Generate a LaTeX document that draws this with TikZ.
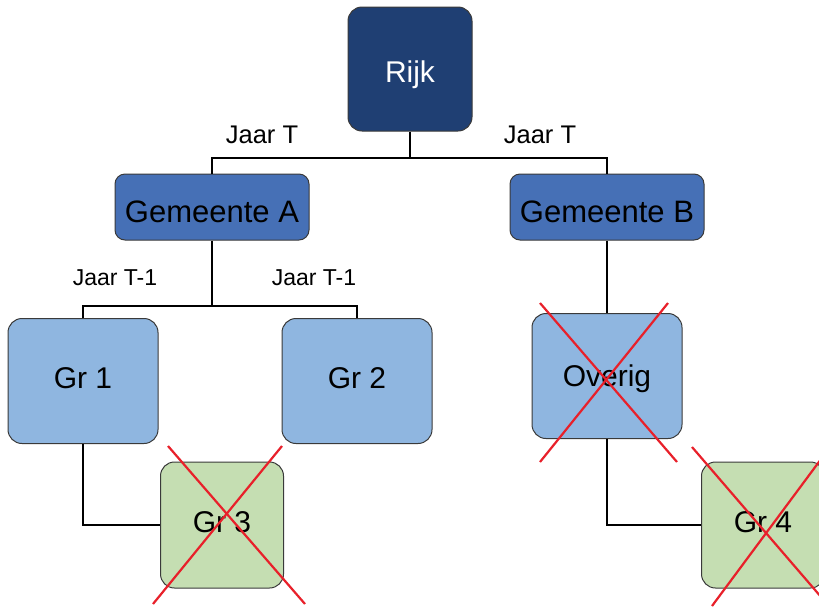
\documentclass[tikz,border=0pt]{standalone}
\usepackage{fontspec}
\setmainfont{Liberation Sans}
\definecolor{rijkc}{HTML}{1F3F73}
\definecolor{gemc}{HTML}{4670B6}
\definecolor{grc}{HTML}{8FB6E0}
\definecolor{greenc}{HTML}{C5DEB2}
\definecolor{edgec}{HTML}{3A3A3A}
\definecolor{crossc}{HTML}{E8202A}
\begin{document}
\begin{tikzpicture}[x=1pt,y=-1pt,
  boxbase/.style={draw=edgec, line width=1pt, rounded corners=14pt, inner sep=0pt, font=\fontsize{30}{36}\selectfont},
  rijkbox/.style={boxbase, fill=rijkc, text=white, minimum width=124pt, minimum height=124pt, text height=27pt, text depth=0pt},
  gembox/.style={boxbase, fill=gemc, text=black, rounded corners=10pt, minimum width=194pt, minimum height=66pt, font=\fontsize{31}{36}\selectfont, text height=30pt, text depth=0pt},
  grbox/.style={boxbase, fill=grc, text=black, minimum width=150pt, minimum height=125pt, text height=21.5pt, text depth=6pt},
  greenbox/.style={boxbase, fill=greenc, text=black, minimum width=123pt, minimum height=126pt, text height=21.5pt, text depth=6pt},
  conn/.style={line width=2pt, black},
  jaar/.style={font=\fontsize{23}{28}\selectfont, inner sep=0pt},
  jaart/.style={font=\fontsize{25.5}{30}\selectfont, inner sep=0pt},
  cross/.style={crossc, line width=2.2pt}
]
\useasboundingbox (0,0) rectangle (819,606);
\clip (0,0) rectangle (819,606);
\node[rijkbox] (rijk) at (410,69) {Rijk};
\node[gembox] (gemA) at (212,207) {Gemeente A};
\node[gembox] (gemB) at (607,207) {Gemeente B};
\node[grbox] (gr1) at (83,381) {Gr 1};
\node[grbox] (gr2) at (357,381) {Gr 2};
\node[grbox, text height=21.5pt, text depth=0pt] (overig) at (607,376) {Overig};
\node[greenbox] (gr3) at (222,525) {Gr 3};
\node[greenbox] (gr4) at (763,525) {Gr 4};

\coordinate (j1) at (410,158);
\coordinate (j2) at (212,306);
\draw[conn] (rijk.south) -- (j1);
\draw[conn] (gemA.north) |- (j1) -| (gemB.north);
\draw[conn] (gemA.south) -- (j2);
\draw[conn] (gr1.north) |- (j2) -| (gr2.north);
\draw[conn] (gemB.south) -- (overig.north);
\draw[conn] (gr1.south) |- (gr3.west);
\draw[conn] (overig.south) |- (gr4.west);

\node[jaart] (jt1) at (262,135) {Jaar T};
\node[jaart] (jt2) at (540,135) {Jaar T};
\node[jaar] (jm1) at (115,278) {Jaar T-1};
\node[jaar] (jm2) at (314,278) {Jaar T-1};

\draw[cross] (168,446) -- (305,604);
\draw[cross] (282,446) -- (153,604);
\draw[cross] (540,303) -- (677,462);
\draw[cross] (668,303) -- (540,462);
\draw[cross] (692,447) -- (834,612);
\draw[cross] (830,447) -- (712,606);
\end{tikzpicture}
\end{document}
